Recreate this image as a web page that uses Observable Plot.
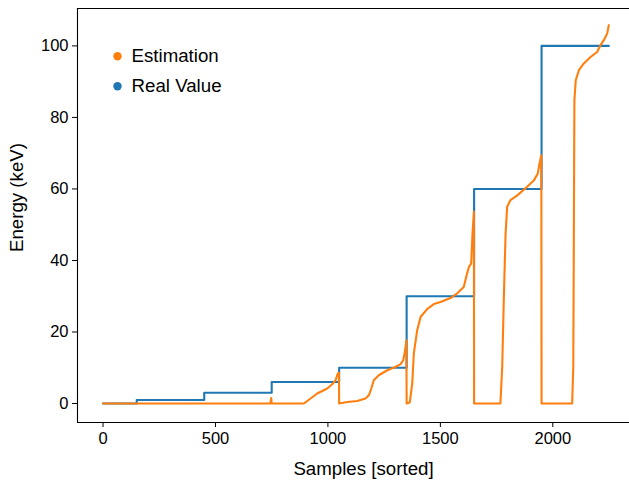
<!DOCTYPE html>
<html>
<head>
<meta charset="utf-8">
<script src="https://cdn.jsdelivr.net/npm/d3@7"></script>
<script src="https://cdn.jsdelivr.net/npm/@observablehq/plot@0.6"></script>
<style>
  html, body { margin: 0; padding: 0; background: #fff; }
  #chart svg { display: block; }
</style>
</head>
<body>
<div id="chart"></div>
<script>
// Real value steps (start sample of each group, energy level)
const realX = [0, 150, 450, 750, 1050, 1350, 1650, 1950, 2249];
const realY = [0, 1, 3, 6, 10, 30, 60, 100, 100];

// Estimation (sorted within each group)
const estX = [0, 744, 748, 750, 893, 923, 952, 975, 997, 1019, 1034, 1044, 1049, 1050,
  1086, 1130, 1167, 1182, 1193, 1204, 1226, 1264, 1300, 1323, 1335, 1342, 1349, 1350,
  1364, 1375, 1382, 1397, 1412, 1441, 1471, 1501, 1545, 1575, 1604, 1619, 1627, 1637, 1643, 1649, 1650,
  1767, 1775, 1782, 1790, 1797, 1812, 1842, 1886, 1916, 1933, 1941, 1949, 1950,
  2086, 2091, 2093, 2096, 2102, 2116, 2138, 2168, 2197, 2212, 2227, 2242, 2249];
const estY = [0, 0, 1.5, 0, 0, 1.4, 2.8, 3.5, 4.2, 5.4, 6.5, 8.4, 8.6, 0,
  0.4, 0.7, 1.4, 2.3, 4.2, 6.5, 7.9, 9.3, 10.2, 11, 12.1, 14.4, 17.7, 0,
  0.3, 5.6, 14, 20.5, 24.2, 26.4, 27.8, 28.4, 29.5, 30.8, 32.6, 36.4, 38.2, 39.1, 47.5, 53.6, 0,
  0, 10.2, 28.9, 47.5, 55, 56.9, 58.2, 60.6, 62.4, 64.3, 67.1, 69.4, 0,
  0, 10.2, 38.2, 84.8, 90.4, 93.2, 95.1, 96.9, 98.3, 100.2, 101.6, 103.5, 105.8];

const xTicks = [0, 500, 1000, 1500, 2000];
const yTicks = [0, 20, 40, 60, 80, 100];
const legendLabels = ["Estimation", "Real Value"];
const legendColors = ["#ff7f0e", "#1f77b4"];
const xLabel = "Samples [sorted]";
const yLabel = "Energy (keV)";

const real = realX.map((x, i) => ({x, y: realY[i]}));
const est = estX.map((x, i) => ({x, y: estY[i]}));
const legend = legendLabels.map((label, i) => ({label, color: legendColors[i], i}));

const xDomain = [-113.5, 2341];
const yDomain = [-5.31, 110.46];
const font = "'Liberation Sans', Arial, sans-serif";

const chart = Plot.plot({
  width: 629,
  height: 482,
  marginLeft: 77,
  marginRight: 0,
  marginTop: 8,
  marginBottom: 60,
  style: {fontFamily: font, fontSize: "16.5px", color: "#000", background: "#fff"},
  x: {domain: xDomain, ticks: xTicks, tickFormat: d3.format("d"), tickSize: 5, tickPadding: 5, label: null},
  y: {domain: yDomain, ticks: yTicks, tickFormat: d3.format("d"), tickSize: 5, tickPadding: 4, label: null},
  marks: [
    Plot.ruleY([yDomain[1]], {stroke: "#000", strokeWidth: 1.1}),
    Plot.ruleY([yDomain[0]], {stroke: "#000", strokeWidth: 1.1}),
    Plot.ruleX([xDomain[0]], {stroke: "#000", strokeWidth: 1.1}),
    Plot.line(real, {x: "x", y: "y", curve: "step-after", stroke: "#1f77b4", strokeWidth: 2.1}),
    Plot.line(est, {x: "x", y: "y", stroke: "#ff7f0e", strokeWidth: 2.1, strokeLinejoin: "round"}),
    ...legend.map((d) => Plot.dot([d], {frameAnchor: "top-left", dx: 40, dy: 47.7 + d.i * 30, fill: d.color, r: 4.2})),
    ...legend.map((d) => Plot.text([d.label], {frameAnchor: "top-left", dx: 54, dy: 48 + d.i * 30, textAnchor: "start", lineAnchor: "middle", fontSize: 18.7, fill: "#000"})),
    Plot.text([xLabel], {frameAnchor: "bottom", dx: 10, dy: 47, lineAnchor: "middle", textAnchor: "middle", fontSize: 18.7, fill: "#000"}),
    Plot.text([yLabel], {frameAnchor: "left", dx: -60, dy: -18, rotate: -90, lineAnchor: "middle", textAnchor: "middle", fontSize: 18.7, fill: "#000"})
  ]
});

document.getElementById("chart").appendChild(chart);
</script>
</body>
</html>
